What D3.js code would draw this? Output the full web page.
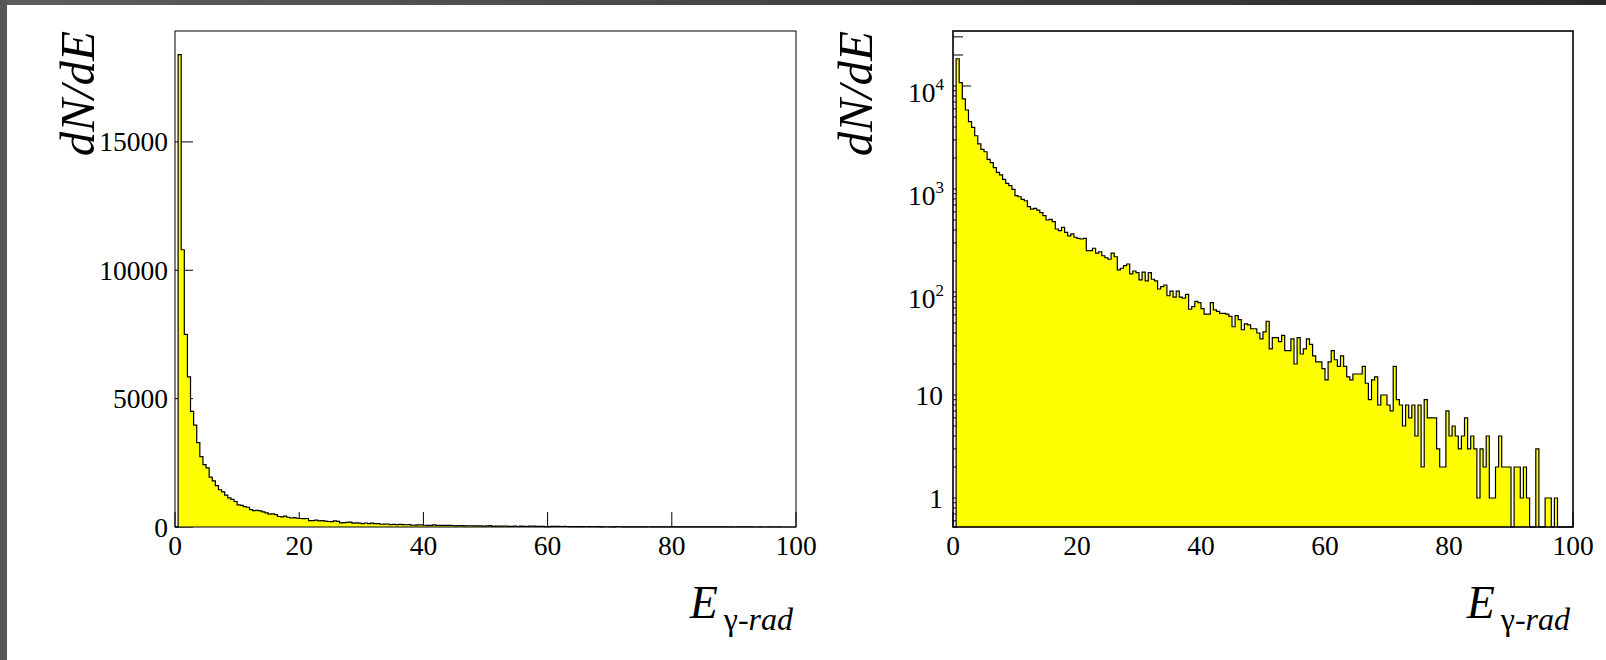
<!DOCTYPE html>
<html>
<head>
<meta charset="utf-8">
<script src="https://cdn.jsdelivr.net/npm/d3@7"></script>
<style>
  body { margin: 0; background: #fff; }
  svg { display: block; }
  text { font-family: "Liberation Serif", "DejaVu Serif", serif; fill: #000; }
</style>
</head>
<body>
<div id="chart"></div>
<script>
// histogram of E_gamma-rad, 200 bins of width 0.5 from 0 to 100
const binWidth = 0.5;
const counts = [
    0, 18400, 10800, 7500, 5850, 4500, 3970, 3290, 2740, 2430,
    2300, 1940, 1800, 1610, 1450, 1370, 1240, 1135, 1077, 993,
    861, 841, 794, 769, 673, 639, 649, 625, 589, 551,
    500, 508, 482, 409, 394, 425, 380, 350, 366, 340,
    332, 327, 332, 252, 252, 266, 238, 246, 225, 215,
    208, 238, 220, 164, 170, 180, 187, 150, 160, 154,
    131, 156, 128, 154, 133, 128, 107, 113, 117, 92,
    102, 89, 102, 89, 87, 95, 68, 72, 81, 79,
    69, 61, 61, 79, 67, 65, 62, 62, 61, 58,
    46, 59, 54, 43, 49, 48, 44, 44, 40, 35,
    41, 52, 28, 36, 36, 33, 38, 27, 27, 35,
    20, 36, 25, 28, 35, 31, 24, 21, 21, 18,
    14, 21, 27, 22, 19, 24, 19, 15, 14, 16,
    16, 16, 19, 13, 9, 14, 15, 8, 10, 10,
    8, 7, 19, 9, 8, 5, 8, 6, 8, 4,
    8, 2, 9, 6, 6, 6, 3, 2, 2, 7,
    4, 5, 4, 3, 4, 6, 3, 4, 3, 1,
    3, 2, 4, 1, 1, 2, 4, 2, 2, 2,
    0, 2, 2, 1, 2, 1, 0, 0, 3, 0,
    0, 1, 1, 0, 1, 0, 0, 0, 0, 0
];
const xTicks = [0, 20, 40, 60, 80, 100];
const xTickLabels = ["0", "20", "40", "60", "80", "100"];
const linTicks = [0, 5000, 10000, 15000];
const linTickLabels = ["0", "5000", "10000", "15000"];
const logTicks = [1, 10, 100, 1000, 10000];
const logTickBase = ["1", "10", "10", "10", "10"];
const logTickExp = ["", "", "2", "3", "4"];

const width = 1606, height = 660;
const svg = d3.select("#chart").append("svg")
    .attr("width", width)
    .attr("height", height);

// window border seen in the screenshot
const grad = svg.append("defs").append("linearGradient")
    .attr("id", "band").attr("x1", "0").attr("x2", "1");
grad.append("stop").attr("offset", "0").attr("stop-color", "#5e5e5e");
grad.append("stop").attr("offset", "1").attr("stop-color", "#2a2a2a");
svg.append("rect").attr("x", 0).attr("y", 0).attr("width", width).attr("height", 5).attr("fill", "url(#band)");
svg.append("rect").attr("x", 0).attr("y", 0).attr("width", 7).attr("height", height).attr("fill", "#575757");

function drawPanel(opt) {
    const g = svg.append("g");
    const x = d3.scaleLinear().domain([0, 100]).range([opt.left, opt.right]);
    const y = opt.log
        ? d3.scaleLog().domain([0.523, 34200]).range([opt.bottom, opt.top])
        : d3.scaleLinear().domain([0, 19320]).range([opt.bottom, opt.top]);
    const ymin = y.domain()[0];
    const yv = v => y(Math.max(v, ymin));

    // ticks first, the histogram fill covers them
    g.selectAll(".xt").data(xTicks).enter().append("line")
        .attr("x1", d => x(d)).attr("x2", d => x(d))
        .attr("y1", opt.bottom).attr("y2", opt.bottom - 15)
        .attr("stroke", "#000").attr("stroke-width", 1);

    const majors = opt.log ? logTicks : linTicks;
    g.selectAll(".yt").data(majors).enter().append("line")
        .attr("x1", opt.left).attr("x2", opt.left + 18)
        .attr("y1", d => y(d)).attr("y2", d => y(d))
        .attr("stroke", "#000").attr("stroke-width", 1);

    if (opt.log) {
        const minors = y.ticks().filter(d => logTicks.indexOf(d) < 0 && Math.abs(Math.log10(d) % 1) > 1e-6);
        g.selectAll(".ym").data(minors).enter().append("line")
            .attr("x1", opt.left).attr("x2", opt.left + 10)
            .attr("y1", d => y(d)).attr("y2", d => y(d))
            .attr("stroke", "#000").attr("stroke-width", 1);
    }

    // histogram
    const pts = [[0, 0]];
    counts.forEach((c, i) => {
        pts.push([i * binWidth, c]);
        pts.push([(i + 1) * binWidth, c]);
    });
    pts.push([100, 0]);
    const line = d3.line().x(d => x(d[0])).y(d => yv(d[1]));
    g.append("path").attr("d", line(pts) + "Z")
        .attr("fill", "#ffff00").attr("stroke", "none");
    g.append("path").attr("d", line(pts))
        .attr("fill", "none").attr("stroke", "#000").attr("stroke-width", 1.2);

    // frame
    g.append("rect")
        .attr("x", opt.left).attr("y", opt.top)
        .attr("width", opt.right - opt.left).attr("height", opt.bottom - opt.top)
        .attr("fill", "none").attr("stroke", "#000").attr("stroke-width", opt.frameWidth);

    // x tick labels
    g.selectAll(".xl").data(xTicks).enter().append("text")
        .attr("x", d => x(d)).attr("y", opt.bottom + 28)
        .attr("text-anchor", "middle").attr("font-size", 27.5)
        .text((d, i) => xTickLabels[i]);

    // y tick labels
    if (opt.log) {
        logTicks.forEach((d, i) => {
            const t = g.append("text").attr("text-anchor", "end").attr("font-size", 27.5);
            if (logTickExp[i]) {
                t.attr("x", opt.left - 9).attr("y", y(d) + 16);
                t.append("tspan").text(logTickBase[i]);
                t.append("tspan").attr("font-size", 17).attr("dy", -12).text(logTickExp[i]);
            } else {
                t.attr("x", opt.left - 10).attr("y", y(d) + 9.5).text(logTickBase[i]);
            }
        });
    } else {
        g.selectAll(".yl").data(linTicks).enter().append("text")
            .attr("x", opt.left - 7).attr("y", d => y(d) + 9.5)
            .attr("text-anchor", "end").attr("font-size", 27.5)
            .text((d, i) => linTickLabels[i]);
    }

    // axis titles
    g.append("text")
        .attr("transform", `translate(${opt.left - 81},${opt.top}) rotate(-90)`)
        .attr("text-anchor", "end").attr("font-size", 49).attr("font-style", "italic")
        .text("dN/dE");

    const xt = g.append("text")
        .attr("x", opt.right - 3).attr("y", 618)
        .attr("text-anchor", "end");
    xt.append("tspan").attr("font-size", 46).attr("font-style", "italic").text("E");
    xt.append("tspan").attr("font-size", 32).attr("dx", 6).attr("dy", 12).text("γ");
    xt.append("tspan").attr("font-size", 32).attr("font-style", "italic").text("-rad");
}

drawPanel({ left: 175, right: 796, top: 31, bottom: 527, log: false, frameWidth: 1 });
drawPanel({ left: 953, right: 1573, top: 31, bottom: 527, log: true, frameWidth: 1.6 });
</script>
</body>
</html>
